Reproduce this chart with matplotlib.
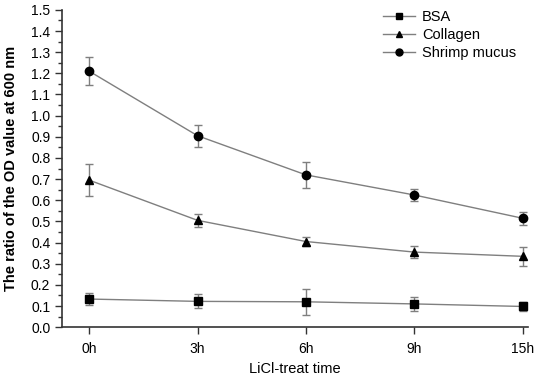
import matplotlib.pyplot as plt
from matplotlib.lines import Line2D
from matplotlib.ticker import MultipleLocator

plt.rcParams['font.family'] = ['Liberation Sans', 'DejaVu Sans']

times = ['0h', '3h', '6h', '9h', '15h']
x = list(range(len(times)))

bsa = [0.133, 0.122, 0.120, 0.110, 0.098]
bsa_err = [0.030, 0.033, 0.062, 0.033, 0.020]
collagen = [0.695, 0.505, 0.405, 0.355, 0.335]
collagen_err = [0.075, 0.032, 0.020, 0.030, 0.045]
shrimp = [1.210, 0.905, 0.720, 0.625, 0.515]
shrimp_err = [0.065, 0.052, 0.063, 0.030, 0.030]

fig = plt.figure(figsize=(5.36, 3.8), dpi=100)
ax = fig.add_axes([0.116, 0.139, 0.869, 0.835])

series = [
    (bsa, bsa_err, 's', 'BSA'),
    (collagen, collagen_err, '^', 'Collagen'),
    (shrimp, shrimp_err, 'o', 'Shrimp mucus'),
]
handles = []
for vals, err, mk, name in series:
    ax.errorbar(x, vals, yerr=err, color='#7f7f7f', lw=1.0,
                marker=mk, markersize=6, markerfacecolor='black',
                markeredgecolor='black', ecolor='#7f7f7f',
                elinewidth=1.0, capsize=3, capthick=1.0)
    handles.append(Line2D([], [], color='#7f7f7f', lw=1.0, marker=mk,
                          markersize=5, markerfacecolor='black',
                          markeredgecolor='black', label=name))

ax.set_xlim(-0.25, 4.05)
ax.set_ylim(0, 1.5)
ax.set_xticks(x)
ax.set_xticklabels(times)
ax.yaxis.set_major_locator(MultipleLocator(0.1))
ax.yaxis.set_minor_locator(MultipleLocator(0.05))

for side in ['top', 'right']:
    ax.spines[side].set_visible(False)
for side in ['left', 'bottom']:
    ax.spines[side].set_linewidth(1.2)
    ax.spines[side].set_color('#333333')

ax.tick_params(axis='both', which='major', direction='out', length=5,
               width=1.0, labelsize=10, color='#333333')
ax.tick_params(axis='y', which='minor', direction='out', length=3, width=1.0,
               color='#333333')
ax.tick_params(axis='x', pad=6)

ax.set_ylabel('The ratio of the OD value at 600 nm', fontsize=10.5,
              fontweight='bold', labelpad=9)
ax.set_xlabel('LiCl-treat time', fontsize=10.5, labelpad=4)

ax.legend(handles=handles, loc='upper left', bbox_to_anchor=(0.66, 1.04),
          frameon=False, fontsize=10.5, handlelength=2.2, handletextpad=0.5,
          labelspacing=0.25)

fig.savefig('out.png', dpi=100)
